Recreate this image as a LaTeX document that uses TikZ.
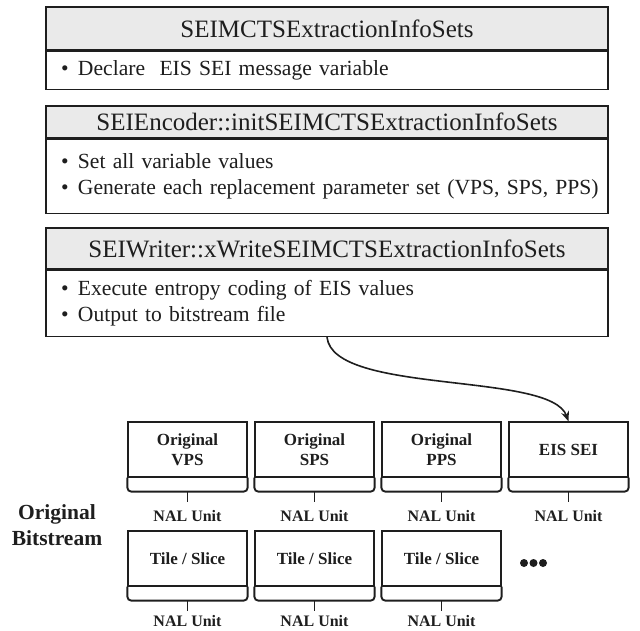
\documentclass[tikz,border=0pt]{standalone}
\usepackage{fontspec}
\setmainfont{Liberation Serif}
\usetikzlibrary{arrows.meta}
\definecolor{inkc}{HTML}{1E1E1E}
\definecolor{hdrgray}{HTML}{EAEAEA}
\tikzset{
  every node/.style={text=inkc},
  hdr/.style={draw=inkc, line width=1.4pt, fill=hdrgray, minimum width=562pt,
    inner sep=0pt, font=\fontsize{25}{30}\selectfont},
  bodyb/.style={draw=inkc, line width=1.4pt, fill=white, minimum width=562pt,
    text width=546pt, align=left, inner xsep=8pt, inner ysep=0pt,
    font=\fontsize{21.6}{26.5}\selectfont},
  unit/.style={draw=inkc, line width=1.3pt, minimum width=119pt, minimum height=55pt,
    inner sep=0pt, align=center, font=\bfseries\fontsize{17}{19.5}\selectfont},
  nal/.style={inner sep=0pt, font=\bfseries\fontsize{16}{18}\selectfont},
  brace/.style={draw=inkc, line width=1.9pt, rounded corners=4pt},
  flow/.style={draw=inkc, line width=1.6pt, -{Stealth[length=10pt,width=8pt]}},
  dotmark/.style={circle, fill=inkc, minimum size=8pt, inner sep=0pt}
}
% one bullet line, never broken
\newcommand{\itm}[1]{\mbox{\hspace*{7pt}\makebox[17pt][l]{\textbullet}#1}}
\begin{document}
\begin{tikzpicture}[x=1pt, y=-1pt]
\useasboundingbox (0,0) rectangle (640,630);

% encoder-side function blocks
\node[hdr, minimum height=43pt] (h1) at (327,28.5) {SEIMCTSExtractionInfoSets};
\node[bodyb, minimum height=38pt, anchor=north] (b1) at (h1.south)
  {\itm{Declare\ \ EIS SEI message variable}};

\node[hdr, minimum height=32pt] (h2) at (327,122) {SEIEncoder::initSEIMCTSExtractionInfoSets};
\node[bodyb, minimum height=74pt, anchor=north] (b2) at (h2.south)
  {\itm{Set all variable values}\\ \itm{Generate each replacement parameter set (VPS, SPS, PPS)}};

\node[hdr, minimum height=41pt] (h3) at (327,248.5) {SEIWriter::xWriteSEIMCTSExtractionInfoSets};
\node[bodyb, minimum height=66pt, anchor=north] (b3) at (h3.south)
  {\itm{Execute entropy coding of EIS values}\\ \itm{Output to bitstream file}};

% bitstream NAL units
\node[unit] (vps) at (187.5,449.5) {Original\\VPS};
\node[unit] (sps) at (314.5,449.5) {Original\\SPS};
\node[unit] (pps) at (441.5,449.5) {Original\\PPS};
\node[unit] (eis) at (568.5,449.5) {EIS SEI};
\node[unit] (ts1) at (187.5,558.5) {Tile / Slice};
\node[unit] (ts2) at (314.5,558.5) {Tile / Slice};
\node[unit] (ts3) at (441.5,558.5) {Tile / Slice};

% braces gathering each unit, with the NAL Unit caption below
\foreach \n/\d in {vps/38,sps/38,pps/38,eis/38,ts1/34,ts2/34,ts3/34} {
  \draw[brace] (\n.south west) -- ([yshift=-14pt]\n.south west)
     -- ([yshift=-14pt]\n.south east) -- (\n.south east);
  \draw[draw=inkc, line width=1.9pt] ([yshift=-14pt]\n.south) -- ([yshift=-24pt]\n.south);
  \node[nal] (nal-\n) at ([yshift=-\d pt]\n.south) {NAL Unit};
}

\node[dotmark] (d1) at (524,563) {};
\node[dotmark] (d2) at (533.5,563) {};
\node[dotmark] (d3) at (543,563) {};

\node[align=center, inner sep=0pt, font=\bfseries\fontsize{21.5}{26}\selectfont]
  (lbl) at (57,525) {Original\\Bitstream};

% SEI message written into the bitstream
\draw[flow] (b3.south) .. controls +(6,58) and +(-18,-50) .. (eis.north);
\end{tikzpicture}
\end{document}
